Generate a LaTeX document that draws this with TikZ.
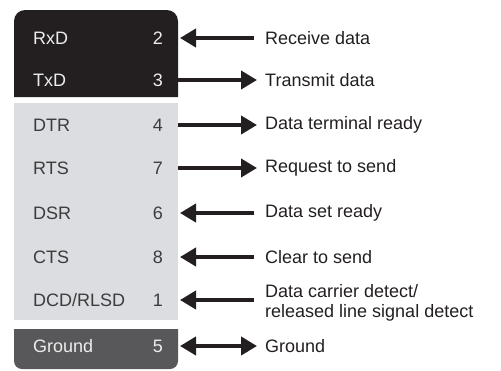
\documentclass[tikz,border=0pt]{standalone}
\usepackage{fontspec}
\setmainfont{Liberation Sans}
\usetikzlibrary{arrows.meta}
\definecolor{blk}{HTML}{231F20}
\definecolor{lgray}{HTML}{DCDDE0}
\definecolor{dgray}{HTML}{58585A}
\definecolor{ltxt}{HTML}{3C3C3E}
\definecolor{wtxt}{HTML}{EDEDED}
\tikzset{
  lbl/.style={anchor=west, inner sep=0pt, font=\fontsize{18}{19}\selectfont},
  num/.style={anchor=east, inner sep=0pt, font=\fontsize{18}{19}\selectfont},
  desc/.style={anchor=west, inner sep=0pt, align=left, text=blk, font=\fontsize{18}{19.5}\selectfont},
  sig/.style={line width=4.5pt, blk},
  tip/.style={-{Triangle[length=16pt,width=18pt]}},
  tipb/.style={{Triangle[length=16pt,width=18pt]}-},
  tipbb/.style={{Triangle[length=16pt,width=18pt]}-{Triangle[length=16pt,width=18pt]}},
}
\begin{document}
\begin{tikzpicture}[x=1pt,y=-1pt]
\useasboundingbox (0,0) rectangle (501,370);
% boxes
\fill[blk] (14,97) [rounded corners=11pt] -- (14,10) -- (178,10) [sharp corners] -- (178,97) -- cycle;
\fill[lgray] (14,103) rectangle (178,320);
\fill[dgray] (14,329) -- (178,329) [rounded corners=8pt] -- (178,369) -- (14,369) [sharp corners] -- cycle;
% left labels
\node[lbl,text=wtxt] (l1) at (33,38) {RxD};
\node[lbl,text=wtxt] (l2) at (33,80) {TxD};
\node[lbl,text=ltxt] (l3) at (33,125) {DTR};
\node[lbl,text=ltxt] (l4) at (33,168) {RTS};
\node[lbl,text=ltxt] (l5) at (33,213) {DSR};
\node[lbl,text=ltxt] (l6) at (33,257) {CTS};
\node[lbl,text=ltxt] (l7) at (33,300) {DCD/RLSD};
\node[lbl,text=wtxt] (l8) at (33,346) {Ground};
% numbers
\node[num,text=wtxt] (n1) at (163,38) {2};
\node[num,text=wtxt] (n2) at (163,80) {3};
\node[num,text=ltxt] (n3) at (163,125) {4};
\node[num,text=ltxt] (n4) at (163,168) {7};
\node[num,text=ltxt] (n5) at (163,213) {6};
\node[num,text=ltxt] (n6) at (163,257) {8};
\node[num,text=ltxt] (n7) at (163,300) {1};
\node[num,text=wtxt] (n8) at (163,346) {5};
% descriptions
\node[desc] (d1) at (265,38) {Receive data};
\node[desc] (d2) at (265,80) {Transmit data};
\node[desc] (d3) at (265,125) {Data terminal ready};
\node[desc] (d4) at (265,168) {Request to send};
\node[desc] (d5) at (265,213) {Data set ready};
\node[desc] (d6) at (265,257) {Clear to send};
\node[desc] (d7) at (265,303) {Data carrier detect/\\released line signal detect};
\node[desc] (d8) at (265,346) {Ground};
% connectors
\draw[sig,tipb] ([xshift=17pt]n1.east) -- ([xshift=-11pt]d1.west);
\draw[sig,tip] ([xshift=15pt]n2.east) -- ([xshift=-8pt]d2.west);
\draw[sig,tip] ([xshift=15pt]n3.east) -- ([xshift=-8pt]d3.west);
\draw[sig,tip] ([xshift=15pt]n4.east) -- ([xshift=-8pt]d4.west);
\draw[sig,tipb] ([xshift=17pt]n5.east) -- ([xshift=-11pt]d5.west);
\draw[sig,tipb] ([xshift=17pt]n6.east) -- ([xshift=-11pt]d6.west);
\draw[sig,tipb] ([xshift=17pt]n7.east) -- ([xshift=-11pt]d7.west |- n7.east);
\draw[sig,tipbb] ([xshift=17pt]n8.east) -- ([xshift=-8pt]d8.west);
\end{tikzpicture}
\end{document}
